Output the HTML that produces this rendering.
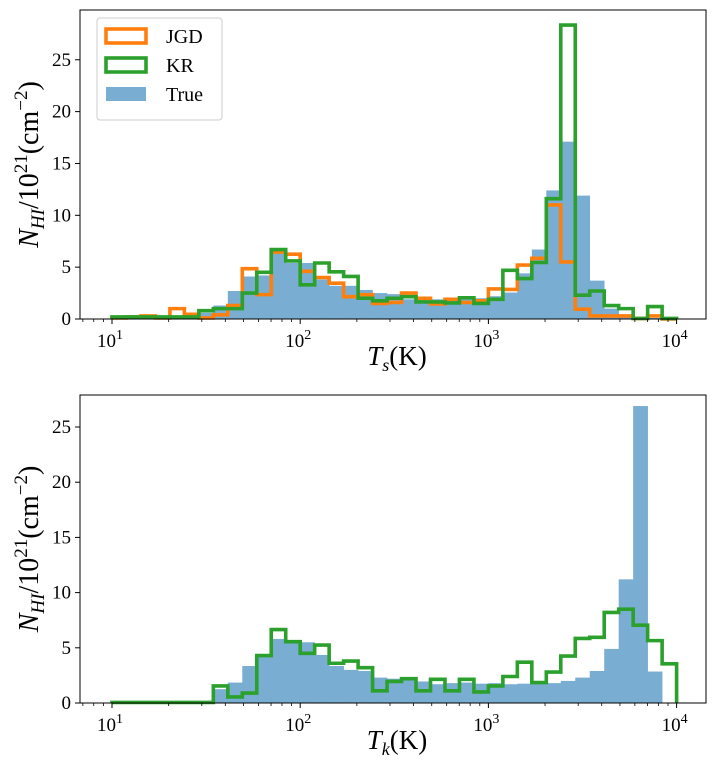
<!DOCTYPE html>
<html><head><meta charset="utf-8"><style>
body{margin:0;background:#fff;}
svg{display:block;font-family:"Liberation Serif",serif;}
</style></head><body>
<svg id="chart" width="714" height="766" viewBox="0 0 714 766"></svg>
<script>
// 39 log-spaced bins from 10 to 10^4
const nBins = 39;
const tsTrue = [0.1,0.1,0.15,0.15,0.2,0.3,0.6,1.3,2.7,4.1,4.2,6.35,5.4,5.4,3.8,3.2,3.2,2.8,2.5,2.4,1.9,2.0,1.9,1.8,1.9,2.0,2.2,2.55,4.4,6.7,12.4,17.1,11.9,3.7,1.0,0.2,0.05,0.1,0];
const tsJGD = [0.1,0.2,0.3,0.1,1.0,0.45,0.1,0.4,1.3,4.85,2.35,6.45,6.25,4.6,4.0,3.45,2.15,2.35,1.5,1.6,2.5,2.0,1.45,1.9,1.6,1.75,2.9,2.85,5.2,5.85,11.0,5.5,0.95,0.3,0.3,0.3,0.05,0.3,0];
const tsKR = [0.2,0.2,0.2,0.2,0.2,0.2,0.8,1.0,1.0,2.5,4.5,6.7,5.6,3.3,5.4,4.55,4.1,2.0,1.75,2.0,2.15,1.65,1.65,1.55,2.05,1.5,1.9,4.7,3.9,5.45,11.6,28.35,2.3,2.7,1.3,1.0,0.05,1.2,0.05];
const tkTrue = [0,0,0,0,0,0,0,1.25,1.85,3.35,4.25,5.8,5.45,5.5,4.35,3.35,3.0,2.9,2.3,2.2,2.1,1.95,1.7,1.8,1.85,1.75,1.8,1.7,1.75,1.75,1.8,2.0,2.3,2.9,4.9,11.2,26.9,2.85,0];
const tkKR = [0.05,0.05,0.05,0.05,0.05,0.05,0.05,1.55,0.55,0.9,4.3,6.65,5.55,4.5,5.25,3.6,3.8,3.2,1.1,1.95,2.2,1.1,2.15,1.1,2.15,1.0,1.55,2.4,3.7,1.85,2.8,4.25,5.85,5.95,8.2,8.5,7.05,5.65,3.55];
const yTicks = [0,5,10,15,20,25];
const xDecades = [1,2,3,4];

const NS="http://www.w3.org/2000/svg";
const svg=document.getElementById('chart');
function mk(tag,attrs,parent){const e=document.createElementNS(NS,tag);for(const k in attrs)e.setAttribute(k,attrs[k]);(parent||svg).appendChild(e);return e;}
const X0=80,X1=706,decPx=188.2,x10=112;
function xLog(l){return x10+(l-1)*decPx;}
function edge(k){return xLog(1+k*3/nBins);}

function panel(name,top,bottom,ymax,trueV,jgdV,krV,xlab){
  const g=mk('g',{});
  
  
  const yS=v=>bottom-v*(bottom-top)/ymax;
  trueV.forEach((v,k)=>{
    if(v<=0)return;
    const r=mk('rect',{x:edge(k),y:yS(v),width:edge(k+1)-edge(k)+0.3,height:bottom-yS(v),fill:'#79add2'},g);
    
    
  });
  function step(vals,color,nm){
    let d='M'+edge(0)+','+bottom;
    vals.forEach((v,k)=>{d+=' L'+edge(k)+','+yS(v)+' L'+edge(k+1)+','+yS(v);});
    d+=' L'+edge(vals.length)+','+bottom;
    const p=mk('path',{d:d,fill:'none',stroke:color,'stroke-width':3.6,'stroke-linejoin':'miter'},g);
    
    
  }
  if(jgdV)step(jgdV,'#ff7f0e','jgd-step-line');
  step(krV,'#2ca02c','kr-step-line');
  const f=mk('rect',{x:X0,y:top,width:X1-X0,height:bottom-top,fill:'none',stroke:'#000','stroke-width':1},g);
  
  
  yTicks.forEach(t=>{
    const y=yS(t);
    mk('line',{x1:X0-5,x2:X0,y1:y,y2:y,stroke:'#000','stroke-width':1},g);
    const tx=mk('text',{x:X0-9,y:y+6,'text-anchor':'end','font-size':19},g);
    tx.textContent=t;
    
    
  });
  xDecades.forEach(d=>{
    const x=xLog(d);
    mk('line',{x1:x,x2:x,y1:bottom,y2:bottom+5,stroke:'#000','stroke-width':1},g);
    const tx=mk('text',{x:x-2,y:bottom+28,'text-anchor':'middle','font-size':19},g);
    
    
    tx.innerHTML='10<tspan dy="-8" font-size="14">'+d+'</tspan>';
  });
  for(let d=0;d<=4;d++)for(let m=2;m<=9;m++){
    const x=xLog(d+Math.log10(m));
    if(x<X0||x>X1)continue;
    mk('line',{x1:x,x2:x,y1:bottom,y2:bottom+3,stroke:'#000','stroke-width':0.8},g);
  }
  const xl=mk('text',{x:397,y:bottom+46,'text-anchor':'middle','font-size':27},g);
  
  
  xl.innerHTML='<tspan font-style="italic">T</tspan><tspan font-style="italic" font-size="18" dy="6">'+xlab+'</tspan><tspan dy="-6">(K)</tspan>';
  const cy=(top+bottom)/2;
  const yl=mk('text',{x:0,y:0,'text-anchor':'middle','font-size':28,transform:'translate(38,'+cy+') rotate(-90)'},g);
  
  
  yl.innerHTML='<tspan font-style="italic">N</tspan><tspan font-style="italic" font-size="19" dy="6">HI</tspan><tspan dy="-6">/10</tspan><tspan font-size="19" dy="-11">21</tspan><tspan dy="11">(cm</tspan><tspan font-size="19" dy="-11">−2</tspan><tspan dy="11">)</tspan>';
  return g;
}
panel('top-panel-ts',10,319,29.8,tsTrue,tsJGD,tsKR,'s');
panel('bottom-panel-tk',395,703,27.9,tkTrue,null,tkKR,'k');

const lg=mk('g',{});


mk('rect',{x:97,y:18,width:125,height:102,rx:3,fill:'#fff',stroke:'#ccc','stroke-width':1},lg);
const entries=[['JGD','#ff7f0e',false],['KR','#2ca02c',false],['True','#79add2',true]];
entries.forEach((e,i)=>{
  const y=29+i*29;
  const r=mk('rect',{x:106,y:y,width:40,height:14,fill:e[2]?e[1]:'none',stroke:e[2]?'none':e[1],'stroke-width':3.6},lg);
  
  
  const t=mk('text',{x:166,y:y+14,'font-size':20},lg);
  t.textContent=e[0];
  
  
});
</script>
</body></html>
